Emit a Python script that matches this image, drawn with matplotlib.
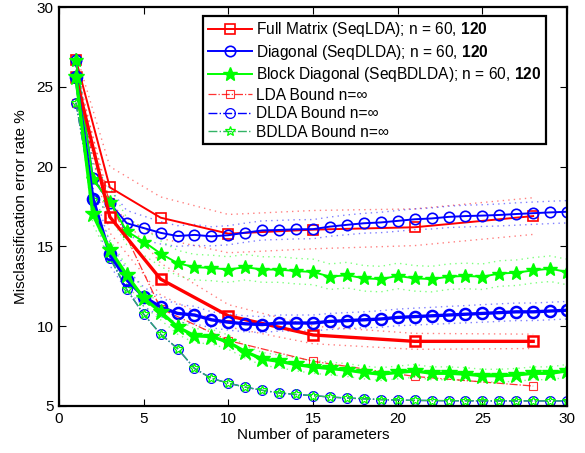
import matplotlib
matplotlib.use("Agg")
import matplotlib.pyplot as plt
import numpy as np

plt.rcParams['font.family'] = ['Liberation Sans', 'DejaVu Sans']
plt.rcParams['mathtext.fontset'] = 'custom'
plt.rcParams['mathtext.rm'] = 'Liberation Sans'
plt.rcParams['mathtext.bf'] = 'Liberation Sans:bold'

# ---- data ----
x_full = [1, 3, 6, 10, 15, 21, 28]
full_60 = [26.7, 18.7, 16.8, 15.8, 16.05, 16.2, 16.9]
full_60_err = [0.4, 1.3, 1.3, 1.2, 1.2, 1.15, 1.15]
full_120 = [25.6, 16.85, 12.95, 10.65, 9.45, 9.05, 9.05]
full_120_err = [0.3, 1.0, 1.0, 0.7, 0.55, 0.5, 0.45]
lda_bound = [24.0, 17.8, 11.1, 9.1, 7.8, 6.85, 6.25]

x_par = list(range(1, 31))
diag_60 = [26.7, 19.3, 17.7, 16.45, 16.15, 15.85, 15.65, 15.72, 15.63, 15.7,
           15.86, 16.0, 16.03, 16.07, 16.08, 16.24, 16.35, 16.45, 16.5, 16.6,
           16.7, 16.75, 16.85, 16.9, 16.93, 16.97, 17.03, 17.08, 17.13, 17.17]
diag_60_err = [0.4, 0.9, 0.9, 0.8, 0.75, 0.7, 0.65, 0.65, 0.6, 0.6,
               0.6, 0.6, 0.6, 0.6, 0.6, 0.6, 0.62, 0.62, 0.64, 0.65,
               0.65, 0.66, 0.67, 0.68, 0.68, 0.69, 0.7, 0.7, 0.7, 0.7]
diag_120 = [25.6, 18.0, 14.5, 12.9, 11.85, 11.2, 10.8, 10.7, 10.4, 10.25,
            10.15, 10.1, 10.2, 10.2, 10.2, 10.3, 10.35, 10.4, 10.45, 10.55,
            10.6, 10.65, 10.7, 10.75, 10.8, 10.85, 10.9, 10.9, 10.95, 11.0]
diag_120_err = [0.3, 0.7, 0.7, 0.65, 0.6, 0.6, 0.55, 0.55, 0.5, 0.5,
                0.5, 0.5, 0.5, 0.5, 0.5, 0.5, 0.5, 0.5, 0.52, 0.52,
                0.53, 0.53, 0.54, 0.54, 0.55, 0.55, 0.55, 0.55, 0.55, 0.55]
block_60 = [26.7, 19.2, 17.8, 15.95, 15.3, 14.55, 13.95, 13.7, 13.65, 13.55,
            13.7, 13.55, 13.55, 13.45, 13.4, 13.1, 13.2, 13.0, 12.95, 13.15,
            13.0, 12.95, 13.1, 13.15, 13.1, 13.3, 13.35, 13.5, 13.6, 13.4]
block_60_err = [0.4, 0.9, 0.9, 0.85, 0.85, 0.8, 0.8, 0.8, 0.8, 0.8,
                0.8, 0.8, 0.8, 0.8, 0.8, 0.8, 0.8, 0.8, 0.8, 0.8,
                0.8, 0.8, 0.8, 0.8, 0.8, 0.8, 0.8, 0.8, 0.8, 0.8]
block_120 = [25.6, 17.0, 14.8, 13.2, 11.75, 10.9, 9.95, 9.4, 9.35, 9.0,
             8.4, 7.95, 7.8, 7.6, 7.45, 7.35, 7.25, 7.1, 7.0, 7.1,
             7.2, 7.05, 7.05, 7.0, 6.9, 6.9, 6.95, 7.05, 7.05, 7.2]
block_120_err = [0.3, 0.6, 0.6, 0.55, 0.5, 0.5, 0.45, 0.45, 0.45, 0.45,
                 0.4, 0.4, 0.4, 0.4, 0.4, 0.4, 0.4, 0.4, 0.4, 0.4,
                 0.4, 0.4, 0.4, 0.4, 0.4, 0.4, 0.4, 0.4, 0.4, 0.4]
dlda_bound = [24.0, 17.9, 14.3, 12.3, 10.75, 9.5, 8.6, 7.35, 6.73, 6.43,
              6.18, 5.98, 5.82, 5.72, 5.65, 5.56, 5.5, 5.45, 5.4, 5.37,
              5.35, 5.34, 5.33, 5.33, 5.32, 5.32, 5.32, 5.32, 5.32, 5.32]
bdlda_bound = list(dlda_bound)

x_ticks = [0, 5, 10, 15, 20, 25, 30]
y_ticks = [5, 10, 15, 20, 25, 30]

labels = [r"Full Matrix (SeqLDA); n = 60, $\mathbf{120}$",
          r"Diagonal (SeqDLDA); n = 60, $\mathbf{120}$",
          r"Block Diagonal (SeqBDLDA); n = 60, $\mathbf{120}$",
          "LDA Bound n=\u221e", "DLDA Bound n=\u221e", "BDLDA Bound n=\u221e"]

RED, BLUE, GREEN = (1, 0, 0), (0, 0, 1), (0, 1, 0)

fig = plt.figure(figsize=(5.85, 4.53), dpi=100)
ax = fig.add_axes([0.1009, 0.1038, 0.8684, 0.8807])

# dotted confidence bands
def band(x, y, e, c):
    y = np.asarray(y); e = np.asarray(e)
    ax.plot(x, y + e, linestyle=(0, (1, 3)), color=c, lw=1.0, alpha=0.5)
    ax.plot(x, y - e, linestyle=(0, (1, 3)), color=c, lw=1.0, alpha=0.5)

band(x_full, full_60, full_60_err, RED)
band(x_full, full_120, full_120_err, RED)
band(x_par, diag_60, diag_60_err, BLUE)
band(x_par, diag_120, diag_120_err, BLUE)
band(x_par, block_60, block_60_err, GREEN)
band(x_par, block_120, block_120_err, GREEN)

# bounds
h4, = ax.plot(x_full, lda_bound, '-.', color=RED, lw=0.9, alpha=0.8,
              marker='s', ms=6, mfc='none', mec=RED, mew=0.8)
h5, = ax.plot(x_par, dlda_bound, '-.', color=BLUE, lw=1.0,
              marker='o', ms=7, mfc='none', mec=BLUE, mew=0.9)
h6, = ax.plot(x_par, bdlda_bound, '-.', color=(0.2, 0.7, 0.4), lw=1.0,
              marker='*', ms=7, mfc='none', mec=GREEN, mew=0.9)

# n = 60 (thin)
h1, = ax.plot(x_full, full_60, '-', color=RED, lw=1.4, marker='s', ms=7,
              mfc='none', mec=RED, mew=1.2)
h2, = ax.plot(x_par, diag_60, '-', color=BLUE, lw=1.4, marker='o', ms=7.5,
              mfc='none', mec=BLUE, mew=1.2)
h3, = ax.plot(x_par, block_60, '-', color=GREEN, lw=1.4, marker='*', ms=10,
              mfc=GREEN, mec=GREEN, mew=1.0)
# n = 120 (thick)
ax.plot(x_full, full_120, '-', color=RED, lw=2.4, marker='s', ms=7,
        mfc='none', mec=RED, mew=1.8)
ax.plot(x_par, diag_120, '-', color=BLUE, lw=2.4, marker='o', ms=8,
        mfc='none', mec=BLUE, mew=1.8)
ax.plot(x_par, block_120, '-', color=GREEN, lw=2.4, marker='*', ms=12,
        mfc=GREEN, mec=GREEN, mew=1.0)

ax.set_xlim(0, 30)
ax.set_ylim(5, 30)
ax.set_xticks(x_ticks)
ax.set_yticks(y_ticks)
ax.tick_params(direction='in', top=True, right=True, labelsize=11, length=5,
               width=0.8, pad=4)
for s in ax.spines.values():
    s.set_linewidth(1.6)
ax.set_xlabel("Number of parameters", fontsize=11, labelpad=2)
ax.set_ylabel("Misclassification error rate %", fontsize=11, labelpad=6)

leg = ax.legend([h1, h2, h3, h4, h5, h6], labels, loc='upper right',
                fontsize=11.2, numpoints=1, handlelength=2.8,
                labelspacing=0.22, borderpad=0.3, handletextpad=0.3,
                fancybox=False, framealpha=1, edgecolor='black',
                bbox_to_anchor=(0.959, 0.978), borderaxespad=0.0)
leg.get_frame().set_linewidth(1.6)

fig.savefig("out.png", dpi=100)
